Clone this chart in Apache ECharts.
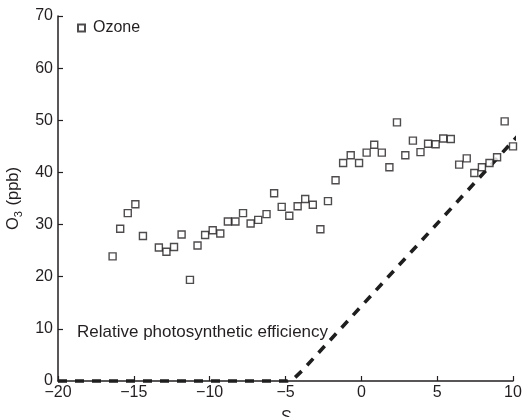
<!DOCTYPE html>
<html>
<head>
<meta charset="utf-8">
<script src="https://cdn.jsdelivr.net/npm/echarts@6/dist/echarts.min.js"></script>
<style>
html,body{margin:0;padding:0;background:#fff;}
#c{width:530px;height:417px;}
</style>
</head>
<body>
<div id="c"></div>
<script>
// Ozone observations
var ozoneS = [-16.4,-15.9,-15.4,-14.9,-14.4,-13.35,-12.85,-12.35,-11.85,-11.3,-10.8,-10.3,-9.8,-9.3,-8.8,-8.3,-7.8,-7.3,-6.8,-6.25,-5.75,-5.25,-4.75,-4.2,-3.7,-3.2,-2.7,-2.2,-1.7,-1.2,-0.7,-0.15,0.35,0.85,1.35,1.85,2.35,2.9,3.4,3.9,4.4,4.9,5.4,5.9,6.45,6.95,7.45,7.95,8.45,8.95,9.45,10.0];
var ozoneValues = [23.9,29.2,32.2,33.9,27.8,25.6,24.8,25.7,28.1,19.4,26.0,28.0,28.9,28.3,30.6,30.6,32.2,30.2,30.9,32.0,36.0,33.4,31.7,33.5,34.9,33.8,29.1,34.5,38.5,41.8,43.3,41.8,43.8,45.3,43.8,41.0,49.6,43.3,46.1,43.9,45.5,45.4,46.5,46.4,41.5,42.7,39.9,41.0,41.8,42.9,49.8,45.0];
// Relative photosynthetic efficiency curve (scaled)
var efficiencyS = [-20,-4.9,-4.4,-3.9,10.5];
var efficiencyValues = [0,0,0.6,2.0,47.6];
// Axis ticks
var xTicks = [-20,-15,-10,-5,0,5,10];
var yTicks = [0,10,20,30,40,50,60,70];

var ozoneData = ozoneS.map(function(s,i){return [s, ozoneValues[i]];});
var effData = efficiencyS.map(function(s,i){return [s, efficiencyValues[i]];});

var FONT = '"Liberation Sans", Arial, Helvetica, sans-serif';
var TXT = '#231f20';
var chart = echarts.init(document.getElementById('c'), null, {renderer:'canvas'});
var fmt = function(v){ return String(v).replace('-', '\u2212'); };
chart.setOption({
  animation:false,
  backgroundColor:'#fff',
  textStyle:{fontFamily:FONT},
  grid:{left:58, right:17, top:16, bottom:36, containLabel:false, outerBoundsMode:'none'},
  legend:{
    show:true, data:['Ozone'], left:77, top:20, padding:0,
    itemWidth:7, itemHeight:7, icon:'rect',
    textStyle:{fontFamily:FONT, fontSize:16, color:TXT, padding:[0,0,0,3]}
  },
  xAxis:{
    type:'value', min:xTicks[0], max:xTicks[xTicks.length-1], interval:5,
    axisLine:{show:true, onZero:false, lineStyle:{color:'#231f20', width:1.5}},
    axisTick:{show:true, inside:true, length:5, lineStyle:{color:'#231f20', width:1.2}},
    axisLabel:{fontFamily:FONT, fontSize:16, color:TXT, margin:4, formatter:fmt},
    splitLine:{show:false},
    name:'S', nameLocation:'middle', nameGap:29,
    nameTextStyle:{fontFamily:FONT, fontSize:16, fontStyle:'italic', color:TXT}
  },
  yAxis:{
    type:'value', min:yTicks[0], max:yTicks[yTicks.length-1], interval:10,
    axisLine:{show:true, onZero:false, lineStyle:{color:'#231f20', width:1.5}},
    axisTick:{show:true, inside:true, length:5, lineStyle:{color:'#231f20', width:1.2}},
    axisLabel:{fontFamily:FONT, fontSize:16, color:TXT, margin:5, formatter:fmt},
    splitLine:{show:false},
    name:'{a|O}{b|3}{a| (ppb)}', nameLocation:'middle', nameGap:34, nameRotate:90,
    nameTextStyle:{
      color:TXT,
      rich:{
        a:{fontFamily:FONT, fontSize:16.5, color:TXT, lineHeight:22, verticalAlign:'middle'},
        b:{fontFamily:FONT, fontSize:11, color:TXT, lineHeight:22, verticalAlign:'bottom', padding:[0,1,0,0]}
      }
    }
  },
  graphic:[{
    type:'text', left:77, top:324,
    style:{text:'Relative photosynthetic efficiency', fontFamily:FONT, fontSize:17, fill:TXT}
  }],
  series:[
    {
      name:'Efficiency', type:'line', data:effData, showSymbol:false, symbol:'none',
      clip:false, z:3,
      lineStyle:{color:'#1e1e1e', width:3.6, type:[9,8], cap:'butt'}
    },
    {
      name:'Ozone', type:'scatter', data:ozoneData, symbol:'rect', symbolSize:7,
      clip:false, z:4,
      itemStyle:{color:'#ffffff', borderColor:'#231f20', borderWidth:1.4}
    }
  ]
});
</script>
</body>
</html>
